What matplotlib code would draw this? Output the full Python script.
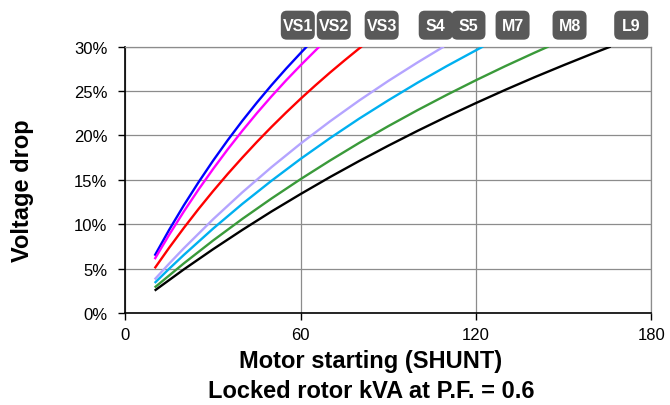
import matplotlib
matplotlib.use("Agg")
import matplotlib.pyplot as plt
import matplotlib.transforms as mtransforms
from matplotlib.patches import FancyBboxPatch

plt.rcParams['font.family'] = ['Liberation Sans', 'DejaVu Sans']

# voltage drop (%) vs locked rotor kVA, one list pair per generator size
vs1_kva = [10, 15, 20, 25, 30, 35, 40, 45, 50, 55, 60, 62.1]
vs1_drop = [6.45, 9.38, 12.13, 14.71, 17.15, 19.45, 21.63, 23.69, 25.65, 27.51, 29.28, 30]
vs2_kva = [10, 15, 20, 25, 30, 35, 40, 45, 50, 55, 60, 65, 66.4]
vs2_drop = [6.06, 8.82, 11.43, 13.89, 16.21, 18.42, 20.51, 22.50, 24.39, 26.19, 27.90, 29.54, 30]
vs3_kva = [10, 15, 20, 25, 30, 35, 40, 45, 50, 55, 60, 65, 70, 75, 80, 80.9]
vs3_drop = [5.03, 7.36, 9.58, 11.70, 13.72, 15.65, 17.49, 19.26, 20.95, 22.57, 24.13, 25.62,
            27.06, 28.44, 29.78, 30]
s4_kva = [10, 15, 20, 30, 40, 50, 60, 70, 80, 90, 100, 109.0]
s4_drop = [3.78, 5.57, 7.29, 10.55, 13.58, 16.42, 19.08, 21.57, 23.92, 26.13, 28.21, 30]
s5_kva = [10, 15, 20, 30, 40, 50, 60, 70, 80, 90, 100, 110, 120, 122.4]
s5_drop = [3.38, 4.99, 6.54, 9.50, 12.28, 14.89, 17.36, 19.68, 21.88, 23.95, 25.93, 27.80,
           29.58, 30]
m8_kva = [10, 20, 30, 40, 50, 60, 70, 80, 90, 100, 110, 120, 130, 140, 144.8]
m8_drop = [2.87, 5.59, 8.16, 10.59, 12.89, 15.08, 17.16, 19.15, 21.04, 22.84, 24.56, 26.21,
           27.79, 29.30, 30]
l9_kva = [10, 20, 30, 40, 50, 60, 70, 80, 90, 100, 110, 120, 130, 140, 150, 160, 166.1]
l9_drop = [2.52, 4.91, 7.18, 9.35, 11.43, 13.40, 15.30, 17.11, 18.84, 20.51, 22.11, 23.64,
           25.12, 26.54, 27.90, 29.22, 30]

curves = [
    (vs1_kva, vs1_drop, '#0000ff'),
    (vs2_kva, vs2_drop, '#ff00ff'),
    (vs3_kva, vs3_drop, '#ff0000'),
    (s4_kva, s4_drop, '#b4a4ff'),
    (s5_kva, s5_drop, '#00b0f0'),
    (m8_kva, m8_drop, '#3a9a3a'),
    (l9_kva, l9_drop, '#000000'),
]

tag_names = ['VS1', 'VS2', 'VS3', 'S4', 'S5', 'M7', 'M8', 'L9']
tag_x = [59.0, 71.3, 87.7, 106.2, 117.4, 132.5, 152.0, 173.1]

x_ticks = [0, 60, 120, 180]
y_ticks = [0, 5, 10, 15, 20, 25, 30]
y_ticklabels = ['0%', '5%', '10%', '15%', '20%', '25%', '30%']

fig = plt.figure(figsize=(6.70, 4.06), dpi=100)
ax = fig.add_axes([0.1872, 0.2266, 0.785, 0.6564])

for xs, ys, c in curves:
    ax.plot(xs, ys, color=c, lw=1.7, solid_capstyle='butt', zorder=3)

ax.set_xlim(0, 180)
ax.set_ylim(0, 30)
ax.set_xticks(x_ticks)
ax.set_yticks(y_ticks)
ax.set_yticklabels(y_ticklabels)
ax.tick_params(direction='out', length=5, width=1, labelsize=12, colors='black')
ax.tick_params(axis='y', pad=8)
ax.tick_params(axis='x', pad=5)
ax.grid(True, color='#8c8c8c', lw=0.9)
ax.set_axisbelow(True)

for s in ['top', 'right']:
    ax.spines[s].set_color('#8c8c8c')
    ax.spines[s].set_linewidth(0.9)
for s in ['left', 'bottom']:
    ax.spines[s].set_color('black')
    ax.spines[s].set_linewidth(1.2)

# rounded tags above the plot
for name, xc in zip(tag_names, tag_x):
    tr = fig.dpi_scale_trans + mtransforms.ScaledTranslation(xc, 1.08, ax.get_xaxis_transform())
    box = FancyBboxPatch((-0.17, -0.145), 0.34, 0.29,
                         boxstyle='round,pad=0,rounding_size=0.06',
                         transform=tr, facecolor='#595959', edgecolor='none')
    fig.add_artist(box)
    fig.text(xc, 1.078, name, transform=ax.get_xaxis_transform(), ha='center', va='center',
             color='white', fontsize=11.5, fontweight='bold')

fig.text(371 / 670, 1 - 362 / 406, 'Motor starting (SHUNT)', ha='center', va='center',
         fontsize=17, fontweight='bold')
fig.text(371 / 670, 1 - 392 / 406, 'Locked rotor kVA at P.F. = 0.6', ha='center', va='center',
         fontsize=17, fontweight='bold')
fig.text(22 / 670, 1 - 191 / 406, 'Voltage drop', ha='center', va='center', rotation=90,
         fontsize=17, fontweight='bold')

fig.savefig('out.png', dpi=100)
